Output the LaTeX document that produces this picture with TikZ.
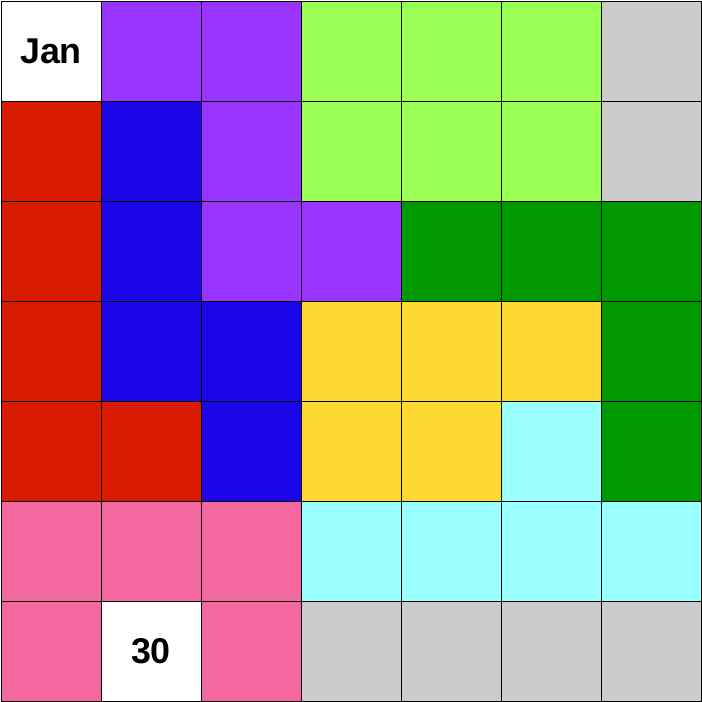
\documentclass[tikz,border=0pt]{standalone}
\usepackage{fontspec}
\setmainfont{Liberation Sans}
\definecolor{cR}{HTML}{D81A00}
\definecolor{cB}{HTML}{1C05E8}
\definecolor{cP}{HTML}{9933FF}
\definecolor{cL}{HTML}{99FF55}
\definecolor{cG}{HTML}{CCCCCC}
\definecolor{cD}{HTML}{009900}
\definecolor{cY}{HTML}{FFD933}
\definecolor{cC}{HTML}{99FFFF}
\definecolor{cK}{HTML}{F468A0}
\definecolor{cW}{HTML}{FFFFFF}
\tikzset{cell/.style={draw=black, line width=0.22pt, minimum size=1cm, inner sep=0pt, outer sep=0pt},
  lbl/.style={font=\fontsize{10.2}{12}\selectfont\bfseries, inner sep=0pt}}
\begin{document}
\begin{tikzpicture}
\useasboundingbox (-0.01,-0.01) rectangle (7.01,7.01);
\foreach \r/\row in {0/{W,P,P,L,L,L,G},1/{R,B,P,L,L,L,G},2/{R,B,P,P,D,D,D},3/{R,B,B,Y,Y,Y,D},4/{R,R,B,Y,Y,C,D},5/{K,K,K,C,C,C,C},6/{K,W,K,G,G,G,G}} {
  \foreach \c [count=\i from 0] in \row {
    \node[cell, fill=c\c] (n\r\i) at (\i+0.5, 6.5-\r) {};
  }
}
\node[lbl] (jan) at (n00) {Jan};
\node[lbl] (day) at (n61) {30};
\end{tikzpicture}
\end{document}
